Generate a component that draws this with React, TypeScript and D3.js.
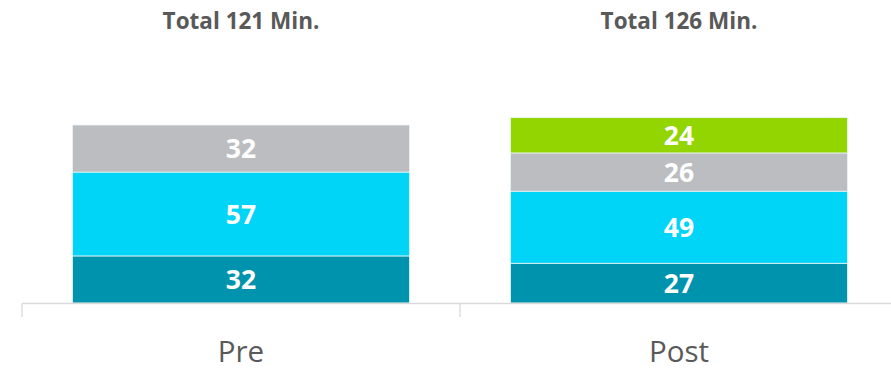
import React from "react";
import * as d3 from "d3";

const categories = ["Pre", "Post"];
const seriesNames = ["Bottom", "Middle", "Upper", "Top"];
const bottomValues = [32, 27];
const middleValues = [57, 49];
const upperValues = [32, 26];
const topValues = [0, 24];
const totalLabels = ["Total 121 Min.", "Total 126 Min."];
const colors = ["#0093AD", "#00D5F8", "#BBBDC1", "#92D500"];

const W = 891;
const H = 368;

export default function App() {
  const rows = categories.map((c, i) => ({
    cat: c,
    Bottom: bottomValues[i],
    Middle: middleValues[i],
    Upper: upperValues[i],
    Top: topValues[i],
  }));
  const stack = d3.stack<any>().keys(seriesNames)(rows);
  const x = d3.scaleBand().domain(categories).range([22, 898]).paddingInner(0).paddingOuter(0);
  const barPad = 50.5;
  const y = d3.scaleLinear().domain([0, 121]).range([303, 125]);
  const font = "'Open Sans', 'Noto Sans', sans-serif";

  return (
    <svg width={W} height={H} style={{ position: "absolute", left: 0, top: 0 }}>
      <rect width={W} height={H} fill="#fff" />
      {stack.map((s, si) =>
        s.map((d, i) => {
          const v = d[1] - d[0];
          if (v <= 0) return null;
          const x0 = x(categories[i])! + barPad;
          const bw = x.bandwidth() - 2 * barPad;
          const yTop = y(d[1]);
          const yBot = y(d[0]);
          return (
            <g key={`${si}-${i}`}>
              <rect x={x0} y={yTop} width={bw} height={yBot - yTop} fill={colors[si]} stroke="#e8f4f6" strokeWidth={0.8} />
              <text
                x={x0 + bw / 2}
                y={(yTop + yBot) / 2}
                dy="0.36em"
                textAnchor="middle"
                fill="#fff"
                fontFamily={font}
                fontWeight="bold"
                fontSize={26.5}
              >
                {v}
              </text>
            </g>
          );
        })
      )}
      <line x1={22} x2={891} y1={303.5} y2={303.5} stroke="#d9d9d9" strokeWidth={1.3} />
      {[22, 460, 898].map((t) => (
        <line key={t} x1={t} x2={t} y1={303.5} y2={317} stroke="#d9d9d9" strokeWidth={1.3} />
      ))}
      {categories.map((c, i) => (
        <g key={c}>
          <text
            x={x(c)! + x.bandwidth() / 2}
            y={29}
            textAnchor="middle"
            fill="#595959"
            fontFamily={font}
            fontWeight="bold"
            fontSize={22.5}
          >
            {totalLabels[i]}
          </text>
          <text
            x={x(c)! + x.bandwidth() / 2}
            y={362}
            textAnchor="middle"
            fill="#595959"
            fontFamily={font}
            fontSize={29.5}
          >
            {c}
          </text>
        </g>
      ))}
    </svg>
  );
}
